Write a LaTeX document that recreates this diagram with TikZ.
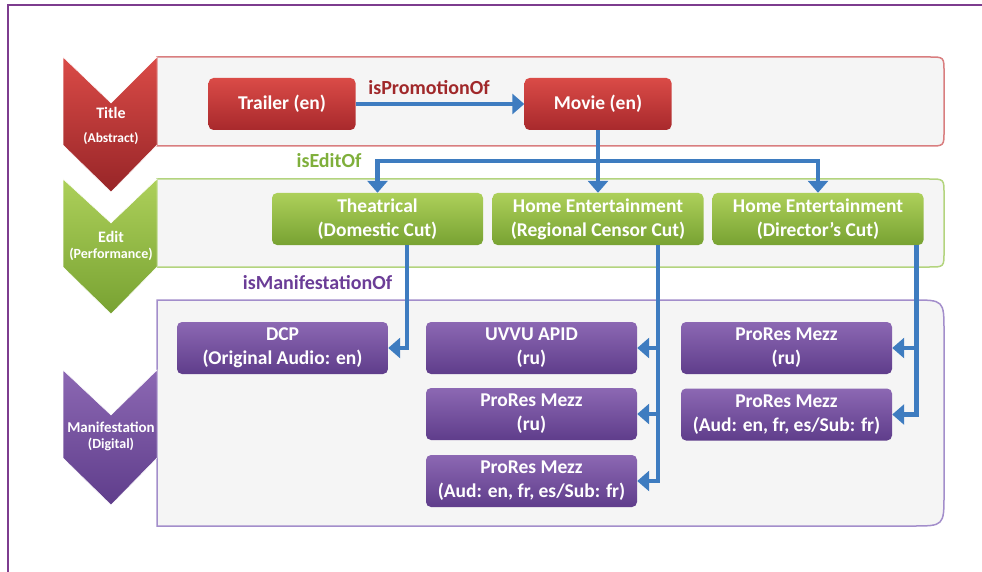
\documentclass[tikz,border=0pt]{standalone}
\usepackage{fontspec}
\setmainfont{Carlito}
\usetikzlibrary{arrows.meta}

\definecolor{framepurple}{HTML}{7D3C8E}
\definecolor{panelgrey}{HTML}{F5F5F5}
\definecolor{redline}{HTML}{D97E7F}
\definecolor{greenline}{HTML}{B3D47E}
\definecolor{purpleline}{HTML}{A38ECB}
\definecolor{redtop}{HTML}{DA4B47}
\definecolor{redbot}{HTML}{A8292C}
\definecolor{greentop}{HTML}{ADD05A}
\definecolor{greenbot}{HTML}{78A232}
\definecolor{purpletop}{HTML}{8C68B3}
\definecolor{purplebot}{HTML}{5F3D8B}
\definecolor{relblue}{HTML}{3E7CC0}
\definecolor{promored}{HTML}{A0282A}
\definecolor{editgreen}{HTML}{7FAF3B}
\definecolor{manipurple}{HTML}{6B3D97}

\begin{document}
\begin{tikzpicture}[x=1pt,y=-1pt,
    box/.style={rounded corners=5pt, minimum width=211pt, minimum height=52pt,
      inner sep=2pt, text=white, align=center,
      font=\bfseries\fontsize{19.5}{24}\selectfont},
    redbox/.style={box, minimum width=147pt, top color=redtop, bottom color=redbot},
    greenbox/.style={box, top color=greentop, bottom color=greenbot},
    purplebox/.style={box, top color=purpletop, bottom color=purplebot},
    panel/.style={fill=panelgrey, line width=1.5pt},
    chevron/.style={draw=white, line width=0.5pt},
    lvl/.style={text=white, align=center, font=\bfseries\fontsize{16}{19}\selectfont},
    rellabel/.style={font=\bfseries\fontsize{20}{24}\selectfont},
    rel/.style={draw=relblue, line width=4.5pt, -{Triangle[width=20pt,length=12pt]}}]
    \useasboundingbox (0,0) rectangle (982,572);
    \draw[framepurple, line width=1.5pt] (982,5) -- (8,5) -- (8,572);

    % level panels
    \filldraw[panel, draw=redline] (157,57) -- (929,57) .. controls (944,57) .. (944,72)
        -- (944,131) .. controls (944,146) .. (929,146) -- (157,146) -- cycle;
    \filldraw[panel, draw=greenline] (157,179) -- (929,179) .. controls (944,179) .. (944,194)
        -- (944,252) .. controls (944,267) .. (929,267) -- (157,267) -- cycle;
    \filldraw[panel, draw=purpleline] (157,300) -- (912,300) .. controls (944,300) .. (944,332)
        -- (944,494) .. controls (944,526) .. (912,526) -- (157,526) -- cycle;

    % chevrons
    \shade[chevron, top color=redtop, bottom color=redbot!90!black]
        (63,57) -- (111,103) -- (157,57) -- (157,145) -- (111,192) -- (63,145) -- cycle;
    \shade[chevron, top color=greentop, bottom color=greenbot]
        (63,179) -- (111,223) -- (157,179) -- (157,267) -- (111,314) -- (63,267) -- cycle;
    \shade[chevron, top color=purpletop, bottom color=purplebot]
        (63,370) -- (111,415) -- (157,370) -- (157,458) -- (111,505) -- (63,458) -- cycle;
    \node[lvl] (lvltitle) at (111,126) {Title\\[5pt]\fontsize{13.5}{16}\selectfont(Abstract)};
    \node[lvl] (lvledit) at (111,246) {Edit\\[-3pt]\fontsize{14}{16}\selectfont(Performance)};
    \node[lvl] (lvlmanif) at (111,436) {\fontsize{15}{17}\selectfont Manifestation\\[-3pt]\fontsize{14}{16}\selectfont(Digital)};

    % title
    \node[redbox] (trailer) at (282,104) {Trailer (en)};
    \node[redbox] (movie) at (598,104) {Movie (en)};

    % edits
    \node[greenbox] (theat) at (377.5,219) {Theatrical\\(Domestic Cut)};
    \node[greenbox] (regional) at (598,219) {Home Entertainment\\(Regional Censor Cut)};
    \node[greenbox] (director) at (818,219) {Home Entertainment\\(Director’s Cut)};

    % manifestations
    \node[purplebox] (dcp) at (282.5,348) {DCP\\(Original Audio: en)};
    \node[purplebox] (uvvu) at (531.5,348) {UVVU APID\\(ru)};
    \node[purplebox] (mezzru) at (531.5,414) {ProRes Mezz\\(ru)};
    \node[purplebox] (mezzall) at (531.5,481) {ProRes Mezz\\(Aud: en, fr, es/Sub: fr)};
    \node[purplebox] (dirru) at (786.5,348) {ProRes Mezz\\(ru)};
    \node[purplebox] (dirall) at (786.5,414.5) {ProRes Mezz\\(Aud: en, fr, es/Sub: fr)};

    % relation labels
    \node[rellabel, text=promored] (promo) at (429,88) {isPromotionOf};
    \node[rellabel, text=editgreen] (editof) at (329,161) {isEditOf};
    \node[rellabel, text=manipurple] (manif) at (317.5,283) {isManifestationOf};

    % relations
    \coordinate (fork) at (598,161);
    \coordinate (theatout) at ([xshift=29.5pt]theat.south);
    \coordinate (regout) at ([xshift=60pt]regional.south);
    \coordinate (dirout) at ([xshift=-7pt]director.south east);
    \draw[rel] (trailer) -- (movie);
    \draw[rel] (movie) -- (regional);
    \draw[rel] (fork) -| (theat);
    \draw[rel] (fork) -| (director);
    \draw[rel] (theatout) |- (dcp);
    \draw[rel] (regout) |- (uvvu);
    \draw[rel] (regout) |- (mezzru);
    \draw[rel] (regout) |- (mezzall);
    \draw[rel] (dirout) |- (dirru);
    \draw[rel] (dirout) |- (dirall);
\end{tikzpicture}
\end{document}
